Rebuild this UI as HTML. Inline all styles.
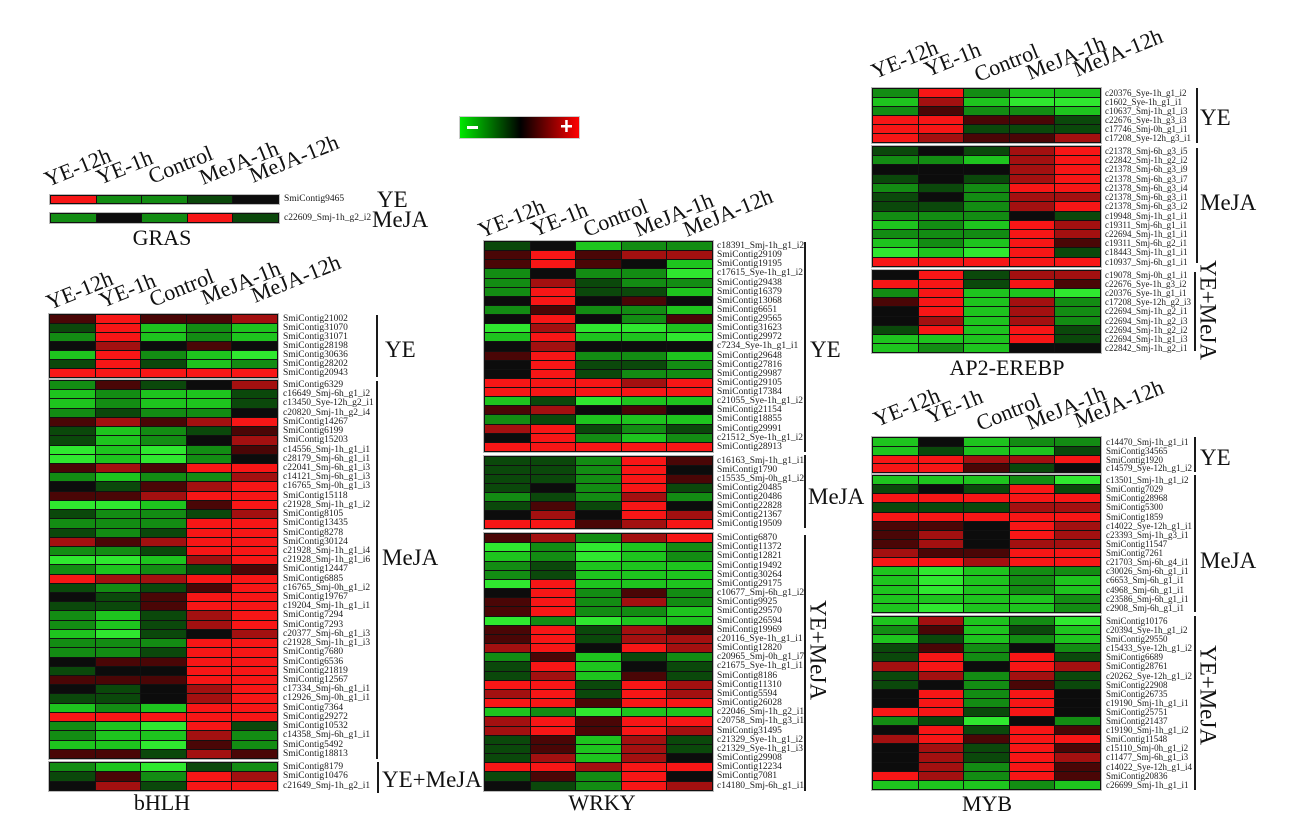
<!DOCTYPE html>
<html><head><meta charset="utf-8">
<style>
html,body{margin:0;padding:0;background:#fff}
body{width:1295px;height:839px;position:relative;overflow:hidden;font-family:"Liberation Serif",serif}
.hm{position:absolute;width:229px;box-sizing:border-box;border-top:1px solid #111;border-left:1px solid #111;outline:1px solid #bbb;background:#111}
.hm p{margin:0;display:flex;height:var(--h)}
.hm i{flex:1;border-right:1px solid #111;border-bottom:1px solid #111}
.G{background:#2fe82f}.L{background:#1ec41e}.g{background:#138c13}.d{background:#0b480b}
.k{background:#0c0c0c}.r{background:#4a0606}.m{background:#a31010}.R{background:#f71616}
.lb{position:absolute;font-size:9.5px;color:#1a1a1a;white-space:nowrap}
.lb p{margin:0;height:var(--h);line-height:var(--h)}
.lg{position:absolute;left:460px;top:117px;width:119px;height:21px;background:linear-gradient(to right,#00e800,#000 51%,#ff0000);outline:1px solid #ccc}
svg{position:absolute;left:0;top:0}
</style></head><body>

<div class="lg"></div>

<!-- GRAS -->
<div class="hm" style="left:50px;top:195px;--h:8px"><p><i class=R></i><i class=g></i><i class=g></i><i class=d></i><i class=k></i></p></div>
<div class="hm" style="left:50px;top:213px;--h:9px"><p><i class=g></i><i class=k></i><i class=g></i><i class=R></i><i class=d></i></p></div>
<div class="lb" style="left:284px;top:195px;--h:9px"><p>SmiContig9465</p></div>
<div class="lb" style="left:284px;top:213px;--h:10px"><p>c22609_Smj-1h_g2_i2</p></div>

<!-- bHLH YE -->
<div class="hm" style="left:49px;top:314px;--h:9px">
<p><i class=r></i><i class=R></i><i class=r></i><i class=r></i><i class=m></i></p>
<p><i class=d></i><i class=R></i><i class=L></i><i class=g></i><i class=L></i></p>
<p><i class=g></i><i class=R></i><i class=L></i><i class=g></i><i class=L></i></p>
<p><i class=k></i><i class=m></i><i class=k></i><i class=r></i><i class=k></i></p>
<p><i class=L></i><i class=R></i><i class=g></i><i class=L></i><i class=G></i></p>
<p><i class=d></i><i class=R></i><i class=d></i><i class=L></i><i class=g></i></p>
<p><i class=R></i><i class=R></i><i class=R></i><i class=R></i><i class=R></i></p>
</div>
<div class="lb" style="left:283px;top:315px;--h:9px">
<p>SmiContig21002</p><p>SmiContig31070</p><p>SmiContig31071</p><p>SmiContig28198</p><p>SmiContig30636</p><p>SmiContig28202</p><p>SmiContig20943</p>
</div>

<!-- bHLH MeJA -->
<div class="hm" style="left:49px;top:380px;--h:9.22px">
<p><i class=g></i><i class=r></i><i class=d></i><i class=k></i><i class=m></i></p>
<p><i class=L></i><i class=g></i><i class=L></i><i class=L></i><i class=d></i></p>
<p><i class=L></i><i class=g></i><i class=L></i><i class=L></i><i class=d></i></p>
<p><i class=g></i><i class=d></i><i class=g></i><i class=g></i><i class=k></i></p>
<p><i class=r></i><i class=m></i><i class=r></i><i class=m></i><i class=R></i></p>
<p><i class=d></i><i class=L></i><i class=g></i><i class=d></i><i class=r></i></p>
<p><i class=d></i><i class=L></i><i class=g></i><i class=k></i><i class=m></i></p>
<p><i class=G></i><i class=L></i><i class=G></i><i class=g></i><i class=r></i></p>
<p><i class=G></i><i class=L></i><i class=G></i><i class=g></i><i class=k></i></p>
<p><i class=r></i><i class=m></i><i class=r></i><i class=R></i><i class=R></i></p>
<p><i class=g></i><i class=L></i><i class=g></i><i class=g></i><i class=m></i></p>
<p><i class=k></i><i class=d></i><i class=r></i><i class=m></i><i class=R></i></p>
<p><i class=r></i><i class=r></i><i class=m></i><i class=R></i><i class=R></i></p>
<p><i class=G></i><i class=G></i><i class=L></i><i class=r></i><i class=R></i></p>
<p><i class=d></i><i class=g></i><i class=g></i><i class=d></i><i class=m></i></p>
<p><i class=g></i><i class=g></i><i class=g></i><i class=R></i><i class=R></i></p>
<p><i class=d></i><i class=g></i><i class=d></i><i class=R></i><i class=R></i></p>
<p><i class=m></i><i class=r></i><i class=m></i><i class=R></i><i class=R></i></p>
<p><i class=g></i><i class=g></i><i class=d></i><i class=R></i><i class=R></i></p>
<p><i class=G></i><i class=G></i><i class=L></i><i class=m></i><i class=R></i></p>
<p><i class=g></i><i class=L></i><i class=g></i><i class=d></i><i class=r></i></p>
<p><i class=R></i><i class=m></i><i class=m></i><i class=R></i><i class=R></i></p>
<p><i class=d></i><i class=g></i><i class=d></i><i class=r></i><i class=R></i></p>
<p><i class=k></i><i class=d></i><i class=r></i><i class=R></i><i class=R></i></p>
<p><i class=d></i><i class=d></i><i class=r></i><i class=R></i><i class=R></i></p>
<p><i class=g></i><i class=L></i><i class=d></i><i class=m></i><i class=R></i></p>
<p><i class=g></i><i class=L></i><i class=d></i><i class=m></i><i class=R></i></p>
<p><i class=L></i><i class=G></i><i class=d></i><i class=k></i><i class=m></i></p>
<p><i class=g></i><i class=g></i><i class=g></i><i class=R></i><i class=R></i></p>
<p><i class=g></i><i class=g></i><i class=d></i><i class=R></i><i class=R></i></p>
<p><i class=k></i><i class=r></i><i class=r></i><i class=R></i><i class=R></i></p>
<p><i class=d></i><i class=k></i><i class=k></i><i class=R></i><i class=R></i></p>
<p><i class=r></i><i class=r></i><i class=r></i><i class=R></i><i class=R></i></p>
<p><i class=k></i><i class=d></i><i class=k></i><i class=m></i><i class=R></i></p>
<p><i class=d></i><i class=d></i><i class=k></i><i class=m></i><i class=R></i></p>
<p><i class=L></i><i class=g></i><i class=L></i><i class=R></i><i class=R></i></p>
<p><i class=R></i><i class=R></i><i class=R></i><i class=R></i><i class=R></i></p>
<p><i class=g></i><i class=L></i><i class=G></i><i class=R></i><i class=d></i></p>
<p><i class=g></i><i class=L></i><i class=L></i><i class=m></i><i class=g></i></p>
<p><i class=L></i><i class=L></i><i class=G></i><i class=r></i><i class=g></i></p>
<p><i class=r></i><i class=r></i><i class=d></i><i class=m></i><i class=r></i></p>
</div>
<div class="lb" style="left:283px;top:381px;--h:9.22px">
<p>SmiContig6329</p><p>c16649_Smj-6h_g1_i2</p><p>c13450_Sye-12h_g2_i1</p><p>c20820_Smj-1h_g2_i4</p><p>SmiContig14267</p><p>SmiContig6199</p><p>SmiContig15203</p><p>c14556_Smj-1h_g1_i1</p><p>c28179_Smj-6h_g1_i1</p><p>c22041_Smj-6h_g1_i3</p><p>c14121_Smj-6h_g1_i3</p><p>c16765_Smj-0h_g1_i3</p><p>SmiContig15118</p><p>c21928_Smj-1h_g1_i2</p><p>SmiContig8105</p><p>SmiContig13435</p><p>SmiContig8278</p><p>SmiContig30124</p><p>c21928_Smj-1h_g1_i4</p><p>c21928_Smj-1h_g1_i6</p><p>SmiContig12447</p><p>SmiContig6885</p><p>c16765_Smj-0h_g1_i2</p><p>SmiContig19767</p><p>c19204_Smj-1h_g1_i1</p><p>SmiContig7294</p><p>SmiContig7293</p><p>c20377_Smj-6h_g1_i3</p><p>c21928_Smj-1h_g1_i3</p><p>SmiContig7680</p><p>SmiContig6536</p><p>SmiContig21819</p><p>SmiContig12567</p><p>c17334_Smj-6h_g1_i1</p><p>c12926_Smj-0h_g1_i1</p><p>SmiContig7364</p><p>SmiContig29272</p><p>SmiContig10532</p><p>c14358_Smj-6h_g1_i1</p><p>SmiContig5492</p><p>SmiContig18813</p>
</div>

<!-- bHLH YE+MeJA -->
<div class="hm" style="left:49px;top:762px;--h:9.33px">
<p><i class=g></i><i class=L></i><i class=G></i><i class=d></i><i class=g></i></p>
<p><i class=d></i><i class=r></i><i class=g></i><i class=R></i><i class=m></i></p>
<p><i class=k></i><i class=m></i><i class=d></i><i class=R></i><i class=R></i></p>
</div>
<div class="lb" style="left:283px;top:763px;--h:9.33px">
<p>SmiContig8179</p><p>SmiContig10476</p><p>c21649_Smj-1h_g2_i1</p>
</div>

<!-- WRKY YE -->
<div class="hm" style="left:484px;top:241px;--h:9.13px">
<p><i class=d></i><i class=k></i><i class=L></i><i class=g></i><i class=g></i></p>
<p><i class=r></i><i class=R></i><i class=r></i><i class=m></i><i class=m></i></p>
<p><i class=r></i><i class=R></i><i class=r></i><i class=k></i><i class=L></i></p>
<p><i class=g></i><i class=k></i><i class=g></i><i class=g></i><i class=G></i></p>
<p><i class=g></i><i class=m></i><i class=d></i><i class=g></i><i class=g></i></p>
<p><i class=g></i><i class=R></i><i class=d></i><i class=d></i><i class=L></i></p>
<p><i class=k></i><i class=R></i><i class=k></i><i class=r></i><i class=k></i></p>
<p><i class=g></i><i class=r></i><i class=g></i><i class=g></i><i class=L></i></p>
<p><i class=k></i><i class=R></i><i class=k></i><i class=g></i><i class=r></i></p>
<p><i class=G></i><i class=m></i><i class=G></i><i class=G></i><i class=L></i></p>
<p><i class=L></i><i class=R></i><i class=L></i><i class=L></i><i class=G></i></p>
<p><i class=k></i><i class=m></i><i class=k></i><i class=k></i><i class=k></i></p>
<p><i class=r></i><i class=R></i><i class=g></i><i class=g></i><i class=L></i></p>
<p><i class=k></i><i class=R></i><i class=d></i><i class=d></i><i class=g></i></p>
<p><i class=k></i><i class=R></i><i class=d></i><i class=g></i><i class=g></i></p>
<p><i class=R></i><i class=R></i><i class=R></i><i class=m></i><i class=R></i></p>
<p><i class=R></i><i class=R></i><i class=R></i><i class=R></i><i class=R></i></p>
<p><i class=L></i><i class=d></i><i class=G></i><i class=L></i><i class=L></i></p>
<p><i class=r></i><i class=m></i><i class=k></i><i class=r></i><i class=k></i></p>
<p><i class=g></i><i class=d></i><i class=L></i><i class=L></i><i class=L></i></p>
<p><i class=m></i><i class=R></i><i class=d></i><i class=g></i><i class=d></i></p>
<p><i class=k></i><i class=R></i><i class=g></i><i class=L></i><i class=g></i></p>
<p><i class=R></i><i class=R></i><i class=R></i><i class=R></i><i class=R></i></p>
</div>
<div class="lb" style="left:717px;top:242px;--h:9.13px">
<p>c18391_Smj-1h_g1_i2</p><p>SmiContig29109</p><p>SmiContig19195</p><p>c17615_Sye-1h_g1_i2</p><p>SmiContig29438</p><p>SmiContig16379</p><p>SmiContig13068</p><p>SmiContig6651</p><p>SmiContig29565</p><p>SmiContig31623</p><p>SmiContig29972</p><p>c7234_Sye-1h_g1_i1</p><p>SmiContig29648</p><p>SmiContig27816</p><p>SmiContig29987</p><p>SmiContig29105</p><p>SmiContig17384</p><p>c21055_Sye-1h_g1_i2</p><p>SmiContig21154</p><p>SmiContig18855</p><p>SmiContig29991</p><p>c21512_Sye-1h_g1_i2</p><p>SmiContig28913</p>
</div>

<!-- WRKY MeJA -->
<div class="hm" style="left:484px;top:456px;--h:9px">
<p><i class=d></i><i class=d></i><i class=g></i><i class=R></i><i class=r></i></p>
<p><i class=d></i><i class=d></i><i class=g></i><i class=R></i><i class=k></i></p>
<p><i class=d></i><i class=d></i><i class=g></i><i class=R></i><i class=r></i></p>
<p><i class=d></i><i class=k></i><i class=g></i><i class=R></i><i class=d></i></p>
<p><i class=g></i><i class=d></i><i class=g></i><i class=m></i><i class=g></i></p>
<p><i class=d></i><i class=r></i><i class=d></i><i class=R></i><i class=k></i></p>
<p><i class=k></i><i class=m></i><i class=k></i><i class=R></i><i class=m></i></p>
<p><i class=R></i><i class=R></i><i class=r></i><i class=m></i><i class=R></i></p>
</div>
<div class="lb" style="left:717px;top:457px;--h:9px">
<p>c16163_Smj-1h_g1_i1</p><p>SmiContig1790</p><p>c15535_Smj-0h_g1_i2</p><p>SmiContig20485</p><p>SmiContig20486</p><p>SmiContig22828</p><p>SmiContig21367</p><p>SmiContig19509</p>
</div>

<!-- WRKY YE+MeJA -->
<div class="hm" style="left:484px;top:533px;--h:9.18px">
<p><i class=r></i><i class=m></i><i class=g></i><i class=m></i><i class=R></i></p>
<p><i class=G></i><i class=g></i><i class=G></i><i class=L></i><i class=g></i></p>
<p><i class=L></i><i class=g></i><i class=G></i><i class=L></i><i class=g></i></p>
<p><i class=g></i><i class=d></i><i class=L></i><i class=L></i><i class=L></i></p>
<p><i class=g></i><i class=d></i><i class=L></i><i class=L></i><i class=L></i></p>
<p><i class=G></i><i class=R></i><i class=L></i><i class=L></i><i class=L></i></p>
<p><i class=k></i><i class=R></i><i class=g></i><i class=r></i><i class=g></i></p>
<p><i class=r></i><i class=R></i><i class=g></i><i class=m></i><i class=g></i></p>
<p><i class=r></i><i class=R></i><i class=g></i><i class=g></i><i class=L></i></p>
<p><i class=G></i><i class=g></i><i class=G></i><i class=L></i><i class=L></i></p>
<p><i class=r></i><i class=R></i><i class=d></i><i class=m></i><i class=r></i></p>
<p><i class=r></i><i class=R></i><i class=d></i><i class=m></i><i class=m></i></p>
<p><i class=m></i><i class=R></i><i class=k></i><i class=R></i><i class=m></i></p>
<p><i class=g></i><i class=r></i><i class=L></i><i class=d></i><i class=g></i></p>
<p><i class=d></i><i class=R></i><i class=L></i><i class=k></i><i class=d></i></p>
<p><i class=d></i><i class=m></i><i class=L></i><i class=r></i><i class=d></i></p>
<p><i class=R></i><i class=R></i><i class=d></i><i class=R></i><i class=m></i></p>
<p><i class=m></i><i class=R></i><i class=d></i><i class=R></i><i class=m></i></p>
<p><i class=R></i><i class=R></i><i class=r></i><i class=R></i><i class=R></i></p>
<p><i class=L></i><i class=g></i><i class=G></i><i class=L></i><i class=L></i></p>
<p><i class=m></i><i class=R></i><i class=r></i><i class=R></i><i class=R></i></p>
<p><i class=m></i><i class=R></i><i class=r></i><i class=R></i><i class=m></i></p>
<p><i class=d></i><i class=r></i><i class=L></i><i class=m></i><i class=d></i></p>
<p><i class=d></i><i class=r></i><i class=L></i><i class=m></i><i class=d></i></p>
<p><i class=d></i><i class=m></i><i class=L></i><i class=m></i><i class=k></i></p>
<p><i class=R></i><i class=R></i><i class=m></i><i class=R></i><i class=R></i></p>
<p><i class=d></i><i class=r></i><i class=g></i><i class=R></i><i class=k></i></p>
<p><i class=k></i><i class=d></i><i class=g></i><i class=R></i><i class=m></i></p>
</div>
<div class="lb" style="left:717px;top:534px;--h:9.18px">
<p>SmiContig6870</p><p>SmiContig11372</p><p>SmiContig12821</p><p>SmiContig19492</p><p>SmiContig30264</p><p>SmiContig29175</p><p>c10677_Smj-6h_g1_i2</p><p>SmiContig9925</p><p>SmiContig29570</p><p>SmiContig26594</p><p>SmiContig19969</p><p>c20116_Sye-1h_g1_i1</p><p>SmiContig12820</p><p>c20965_Smj-0h_g1_i7</p><p>c21675_Sye-1h_g1_i1</p><p>SmiContig8186</p><p>SmiContig11310</p><p>SmiContig5594</p><p>SmiContig26028</p><p>c22046_Smj-1h_g2_i1</p><p>c20758_Smj-1h_g3_i1</p><p>SmiContig31495</p><p>c21329_Sye-1h_g1_i2</p><p>c21329_Sye-1h_g1_i3</p><p>SmiContig29908</p><p>SmiContig12234</p><p>SmiContig7081</p><p>c14180_Smj-6h_g1_i1</p>
</div>

<!-- AP2 YE -->
<div class="hm" style="left:872px;top:88px;--h:9px">
<p><i class=g></i><i class=R></i><i class=g></i><i class=L></i><i class=L></i></p>
<p><i class=L></i><i class=m></i><i class=L></i><i class=G></i><i class=G></i></p>
<p><i class=g></i><i class=r></i><i class=g></i><i class=g></i><i class=L></i></p>
<p><i class=R></i><i class=R></i><i class=r></i><i class=r></i><i class=d></i></p>
<p><i class=R></i><i class=R></i><i class=d></i><i class=d></i><i class=d></i></p>
<p><i class=R></i><i class=m></i><i class=r></i><i class=r></i><i class=m></i></p>
</div>
<div class="lb" style="left:1105px;top:89px;--h:9px;font-size:9px">
<p>c20376_Sye-1h_g1_i2</p><p>c1602_Sye-1h_g1_i1</p><p>c10637_Smj-1h_g1_i3</p><p>c22676_Sye-1h_g3_i3</p><p>c17746_Smj-0h_g1_i1</p><p>c17208_Sye-12h_g3_i1</p>
</div>

<!-- AP2 MeJA -->
<div class="hm" style="left:872px;top:146px;--h:9.23px">
<p><i class=d></i><i class=k></i><i class=d></i><i class=m></i><i class=R></i></p>
<p><i class=g></i><i class=g></i><i class=L></i><i class=m></i><i class=R></i></p>
<p><i class=k></i><i class=k></i><i class=k></i><i class=m></i><i class=R></i></p>
<p><i class=d></i><i class=k></i><i class=d></i><i class=m></i><i class=R></i></p>
<p><i class=g></i><i class=d></i><i class=g></i><i class=R></i><i class=R></i></p>
<p><i class=d></i><i class=k></i><i class=g></i><i class=m></i><i class=m></i></p>
<p><i class=d></i><i class=d></i><i class=g></i><i class=m></i><i class=R></i></p>
<p><i class=g></i><i class=g></i><i class=g></i><i class=k></i><i class=d></i></p>
<p><i class=L></i><i class=g></i><i class=L></i><i class=R></i><i class=m></i></p>
<p><i class=g></i><i class=g></i><i class=g></i><i class=R></i><i class=m></i></p>
<p><i class=L></i><i class=g></i><i class=L></i><i class=R></i><i class=r></i></p>
<p><i class=G></i><i class=L></i><i class=G></i><i class=R></i><i class=d></i></p>
<p><i class=R></i><i class=R></i><i class=R></i><i class=R></i><i class=R></i></p>
</div>
<div class="lb" style="left:1105px;top:147px;--h:9.23px;font-size:9px">
<p>c21378_Smj-6h_g3_i5</p><p>c22842_Smj-1h_g2_i2</p><p>c21378_Smj-6h_g3_i9</p><p>c21378_Smj-6h_g3_i7</p><p>c21378_Smj-6h_g3_i4</p><p>c21378_Smj-6h_g3_i1</p><p>c21378_Smj-6h_g3_i2</p><p>c19948_Smj-1h_g1_i1</p><p>c19311_Smj-6h_g1_i1</p><p>c22694_Smj-1h_g1_i1</p><p>c19311_Smj-6h_g2_i1</p><p>c18443_Smj-1h_g1_i1</p><p>c10937_Smj-6h_g1_i1</p>
</div>

<!-- AP2 YE+MeJA -->
<div class="hm" style="left:872px;top:270px;--h:9.11px">
<p><i class=k></i><i class=R></i><i class=d></i><i class=m></i><i class=m></i></p>
<p><i class=R></i><i class=R></i><i class=d></i><i class=R></i><i class=r></i></p>
<p><i class=g></i><i class=R></i><i class=L></i><i class=L></i><i class=G></i></p>
<p><i class=r></i><i class=R></i><i class=L></i><i class=m></i><i class=g></i></p>
<p><i class=k></i><i class=R></i><i class=L></i><i class=m></i><i class=g></i></p>
<p><i class=k></i><i class=m></i><i class=L></i><i class=m></i><i class=g></i></p>
<p><i class=d></i><i class=R></i><i class=L></i><i class=R></i><i class=d></i></p>
<p><i class=L></i><i class=L></i><i class=L></i><i class=R></i><i class=d></i></p>
<p><i class=L></i><i class=g></i><i class=L></i><i class=k></i><i class=k></i></p>
</div>
<div class="lb" style="left:1105px;top:271px;--h:9.11px;font-size:9px">
<p>c19078_Smj-0h_g1_i1</p><p>c22676_Sye-1h_g3_i2</p><p>c20376_Sye-1h_g1_i1</p><p>c17208_Sye-12h_g2_i3</p><p>c22694_Smj-1h_g2_i1</p><p>c22694_Smj-1h_g2_i3</p><p>c22694_Smj-1h_g2_i2</p><p>c22694_Smj-1h_g1_i3</p><p>c22842_Smj-1h_g2_i1</p>
</div>

<!-- MYB YE -->
<div class="hm" style="left:872px;top:437px;--h:8.75px">
<p><i class=L></i><i class=k></i><i class=L></i><i class=g></i><i class=g></i></p>
<p><i class=L></i><i class=d></i><i class=L></i><i class=L></i><i class=d></i></p>
<p><i class=R></i><i class=R></i><i class=m></i><i class=m></i><i class=R></i></p>
<p><i class=R></i><i class=R></i><i class=r></i><i class=d></i><i class=k></i></p>
</div>
<div class="lb" style="left:1106px;top:438px;--h:8.75px;font-size:9px">
<p>c14470_Smj-1h_g1_i1</p><p>SmiContig34565</p><p>SmiContig1920</p><p>c14579_Sye-12h_g1_i2</p>
</div>

<!-- MYB MeJA -->
<div class="hm" style="left:872px;top:475px;--h:9.13px">
<p><i class=L></i><i class=L></i><i class=L></i><i class=g></i><i class=G></i></p>
<p><i class=d></i><i class=k></i><i class=d></i><i class=R></i><i class=d></i></p>
<p><i class=R></i><i class=R></i><i class=R></i><i class=R></i><i class=R></i></p>
<p><i class=d></i><i class=d></i><i class=d></i><i class=m></i><i class=m></i></p>
<p><i class=R></i><i class=R></i><i class=R></i><i class=R></i><i class=R></i></p>
<p><i class=r></i><i class=r></i><i class=k></i><i class=R></i><i class=m></i></p>
<p><i class=r></i><i class=m></i><i class=k></i><i class=R></i><i class=m></i></p>
<p><i class=r></i><i class=m></i><i class=k></i><i class=m></i><i class=m></i></p>
<p><i class=m></i><i class=r></i><i class=r></i><i class=R></i><i class=R></i></p>
<p><i class=R></i><i class=R></i><i class=m></i><i class=R></i><i class=R></i></p>
<p><i class=L></i><i class=G></i><i class=L></i><i class=g></i><i class=g></i></p>
<p><i class=L></i><i class=G></i><i class=L></i><i class=g></i><i class=L></i></p>
<p><i class=L></i><i class=G></i><i class=L></i><i class=g></i><i class=L></i></p>
<p><i class=L></i><i class=L></i><i class=L></i><i class=L></i><i class=g></i></p>
<p><i class=L></i><i class=G></i><i class=L></i><i class=L></i><i class=g></i></p>
</div>
<div class="lb" style="left:1106px;top:476px;--h:9.13px;font-size:9px">
<p>c13501_Smj-1h_g1_i2</p><p>SmiContig7029</p><p>SmiContig28968</p><p>SmiContig5300</p><p>SmiContig1859</p><p>c14022_Sye-12h_g1_i1</p><p>c23393_Smj-1h_g3_i1</p><p>SmiContig11547</p><p>SmiContig7261</p><p>c21703_Smj-6h_g4_i1</p><p>c30026_Smj-6h_g1_i1</p><p>c6653_Smj-6h_g1_i1</p><p>c4968_Smj-6h_g1_i1</p><p>c23586_Smj-6h_g1_i1</p><p>c2908_Smj-6h_g1_i1</p>
</div>

<!-- MYB YE+MeJA -->
<div class="hm" style="left:872px;top:616px;--h:9.1px">
<p><i class=L></i><i class=m></i><i class=L></i><i class=g></i><i class=G></i></p>
<p><i class=g></i><i class=r></i><i class=L></i><i class=d></i><i class=L></i></p>
<p><i class=L></i><i class=d></i><i class=L></i><i class=g></i><i class=L></i></p>
<p><i class=d></i><i class=r></i><i class=g></i><i class=k></i><i class=g></i></p>
<p><i class=d></i><i class=R></i><i class=g></i><i class=R></i><i class=d></i></p>
<p><i class=m></i><i class=R></i><i class=k></i><i class=R></i><i class=m></i></p>
<p><i class=d></i><i class=m></i><i class=g></i><i class=m></i><i class=d></i></p>
<p><i class=d></i><i class=k></i><i class=g></i><i class=r></i><i class=d></i></p>
<p><i class=k></i><i class=R></i><i class=g></i><i class=R></i><i class=k></i></p>
<p><i class=k></i><i class=R></i><i class=g></i><i class=R></i><i class=k></i></p>
<p><i class=R></i><i class=R></i><i class=d></i><i class=R></i><i class=k></i></p>
<p><i class=g></i><i class=d></i><i class=G></i><i class=k></i><i class=g></i></p>
<p><i class=k></i><i class=R></i><i class=d></i><i class=R></i><i class=r></i></p>
<p><i class=m></i><i class=R></i><i class=r></i><i class=R></i><i class=R></i></p>
<p><i class=k></i><i class=m></i><i class=d></i><i class=R></i><i class=r></i></p>
<p><i class=k></i><i class=m></i><i class=d></i><i class=R></i><i class=m></i></p>
<p><i class=k></i><i class=m></i><i class=g></i><i class=R></i><i class=r></i></p>
<p><i class=R></i><i class=m></i><i class=g></i><i class=R></i><i class=r></i></p>
<p><i class=L></i><i class=L></i><i class=L></i><i class=g></i><i class=L></i></p>
</div>
<div class="lb" style="left:1106px;top:617px;--h:9.1px;font-size:9px">
<p>SmiContig10176</p><p>c20394_Sye-1h_g1_i2</p><p>SmiContig29550</p><p>c15433_Sye-12h_g1_i2</p><p>SmiContig6689</p><p>SmiContig28761</p><p>c20262_Sye-12h_g1_i2</p><p>SmiContig22908</p><p>SmiContig26735</p><p>c19190_Smj-1h_g1_i1</p><p>SmiContig25751</p><p>SmiContig21437</p><p>c19190_Smj-1h_g1_i2</p><p>SmiContig11548</p><p>c15110_Smj-0h_g1_i2</p><p>c11477_Smj-6h_g1_i3</p><p>c14022_Sye-12h_g1_i4</p><p>SmiContig20836</p><p>c26699_Smj-1h_g1_i1</p>
</div>

<svg width="1295" height="839" viewBox="0 0 1295 839" font-family="Liberation Serif, serif" fill="#111">
<!-- legend signs -->
<rect x="467" y="126" width="11" height="3" fill="#fff"/>
<rect x="561" y="125" width="11" height="2.5" fill="#fff"/>
<rect x="565.2" y="120" width="2.5" height="12" fill="#fff"/>

<g font-size="22">
<!-- GRAS headers -->
<text x="48" y="187" transform="rotate(-22 48 187)">YE-12h</text>
<text x="100" y="185" transform="rotate(-22 100 185)">YE-1h</text>
<text x="152" y="184" transform="rotate(-22 152 184)">Control</text>
<text x="203" y="185" transform="rotate(-22 203 185)">MeJA-1h</text>
<text x="253" y="183" transform="rotate(-22 253 183)">MeJA-12h</text>
<!-- bHLH headers -->
<text x="50" y="310" transform="rotate(-22 50 310)">YE-12h</text>
<text x="103" y="308" transform="rotate(-22 103 308)">YE-1h</text>
<text x="153" y="307" transform="rotate(-22 153 307)">Control</text>
<text x="205" y="305" transform="rotate(-22 205 305)">MeJA-1h</text>
<text x="255" y="303" transform="rotate(-22 255 303)">MeJA-12h</text>
<!-- WRKY headers -->
<text x="482" y="238" transform="rotate(-22 482 238)">YE-12h</text>
<text x="535" y="237" transform="rotate(-22 535 237)">YE-1h</text>
<text x="587" y="237" transform="rotate(-22 587 237)">Control</text>
<text x="638" y="237" transform="rotate(-22 638 237)">MeJA-1h</text>
<text x="687" y="237" transform="rotate(-22 687 237)">MeJA-12h</text>
<!-- AP2 headers -->
<text x="875" y="79" transform="rotate(-22 875 79)">YE-12h</text>
<text x="928" y="77" transform="rotate(-22 928 77)">YE-1h</text>
<text x="978" y="82" transform="rotate(-22 978 82)">Control</text>
<text x="1030" y="80" transform="rotate(-22 1030 80)">MeJA-1h</text>
<text x="1077" y="77" transform="rotate(-22 1077 77)">MeJA-12h</text>
<!-- MYB headers -->
<text x="877" y="427" transform="rotate(-22 877 427)">YE-12h</text>
<text x="930" y="424" transform="rotate(-22 930 424)">YE-1h</text>
<text x="980" y="431" transform="rotate(-22 980 431)">Control</text>
<text x="1030" y="430" transform="rotate(-22 1030 430)">MeJA-1h</text>
<text x="1078" y="428" transform="rotate(-22 1078 428)">MeJA-12h</text>

<!-- family titles -->
<text x="162" y="245" text-anchor="middle">GRAS</text>
<text x="162" y="810" text-anchor="middle">bHLH</text>
<text x="602" y="810" text-anchor="middle">WRKY</text>
<text x="1007" y="375" text-anchor="middle">AP2-EREBP</text>
<text x="987" y="811" text-anchor="middle">MYB</text>
</g>

<g font-size="23">
<text x="377" y="207">YE</text>
<text x="372" y="227">MeJA</text>
<text x="385" y="357">YE</text>
<text x="382" y="565">MeJA</text>
<text x="382" y="787">YE+MeJA</text>
<text x="810" y="357">YE</text>
<text x="808" y="504">MeJA</text>
<text text-anchor="middle" transform="translate(810.5 650) rotate(90)">YE+MeJA</text>
<text x="1200" y="125">YE</text>
<text x="1200" y="210">MeJA</text>
<text text-anchor="middle" transform="translate(1200.5 310) rotate(90)">YE+MeJA</text>
<text x="1200" y="465">YE</text>
<text x="1200" y="568">MeJA</text>
<text text-anchor="middle" transform="translate(1200.5 695) rotate(90)">YE+MeJA</text>
</g>

<g stroke="#1a1a1a" stroke-width="2">
<line x1="377" y1="315" x2="377" y2="377"/>
<line x1="377" y1="381" x2="377" y2="759"/>
<line x1="378" y1="762" x2="378" y2="793"/>
<line x1="805" y1="242" x2="805" y2="452"/>
<line x1="805" y1="455" x2="805" y2="528"/>
<line x1="805" y1="535" x2="805" y2="791"/>
<line x1="1197" y1="88" x2="1197" y2="143"/>
<line x1="1197" y1="148" x2="1197" y2="263"/>
<line x1="1195" y1="272" x2="1195" y2="351"/>
<line x1="1195" y1="437" x2="1195" y2="472"/>
<line x1="1195" y1="475" x2="1195" y2="612"/>
<line x1="1195" y1="616" x2="1195" y2="790"/>
</g>
</svg>
</body></html>
